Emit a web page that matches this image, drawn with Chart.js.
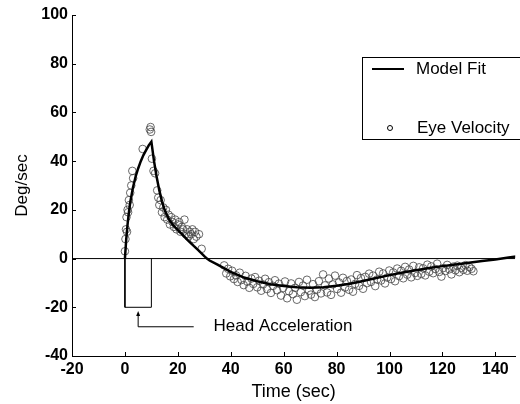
<!DOCTYPE html>
<html>
<head>
<meta charset="utf-8">
<script src="https://cdn.jsdelivr.net/npm/chart.js@4"></script>
<style>
  html, body { margin: 0; padding: 0; background: #fff; }
  #wrap { width: 520px; height: 404px; }
</style>
</head>
<body>
<div id="wrap"><canvas id="eyeChart"></canvas></div>
<script>
// model fit curve (sec, deg/sec)
const fitTime = [0, 0.5, 1, 1.5, 2, 3, 4, 5, 6, 7, 8, 9, 10, 11, 12, 13, 14, 15, 16, 17, 18, 19, 20,
  22, 24, 26, 28, 30, 31, 32, 35, 40, 45, 50, 55, 60, 65, 70, 75, 80, 85, 90, 95, 100, 105, 110,
  115, 120, 125, 130, 135, 140, 145, 148];
const fitVel = [0, 8, 14, 19, 23, 29, 33.5, 37, 40, 42.5, 44.5, 46.5, 48, 40, 33.5, 28, 23.5, 20, 17.5,
  15.5, 14, 12.8, 11.7, 9.5, 7.3, 5.2, 3.2, 1.0, 0, -0.8, -2.5, -5.5, -7.8, -9.3, -10.5, -11.3, -11.8,
  -12, -11.8, -11.2, -10.3, -9.2, -8, -6.8, -5.7, -4.8, -3.9, -3.1, -2.4, -1.7, -1.0, -0.4, 0.4, 0.9];

// measured eye velocity
const eyeTime = [0.0, 0.2, 0.4, 0.6, 0.8, 1.0, 1.2, 1.5, 1.8, 2.0, 2.4, 2.8, 3.1,
  6.7, 9.4, 9.7, 9.9, 10.2, 10.8, 11.4, 12.2, 12.6, 13.0, 13.5, 14.0, 14.5, 15.0, 15.5, 16.0,
  16.5, 17.0, 17.5, 18.0, 18.5, 19.0, 19.5, 20.0, 20.5, 21.0, 21.5, 22.0, 22.5, 23.0, 23.5, 24.0,
  24.5, 25.0, 25.5, 26.0, 26.5, 27.0, 28.0, 29.0,
  37.5, 38.3, 39.0, 39.8, 40.5, 41.2, 42.0, 42.6, 43.4, 44.1, 44.9, 45.6, 46.3, 47.0, 47.8, 48.5,
  49.2, 50.0, 50.7, 51.5, 52.2, 53.0, 53.7, 54.4, 55.2, 56.0, 56.7, 57.5, 58.2, 59.0, 59.8, 60.5,
  61.3, 62.0, 62.8, 63.5, 64.3, 65.0, 65.8, 66.5, 67.3, 68.0, 68.8, 69.6, 70.3, 71.1, 71.8, 72.6,
  73.3, 74.1, 74.9, 75.6, 76.4, 77.1, 77.9, 78.6, 79.4, 80.2, 80.9, 81.7, 82.4, 83.2, 83.9, 84.7,
  85.5, 86.2, 87.0, 87.7, 88.5, 89.2, 90.0, 90.8, 91.5, 92.3, 93.0, 93.8, 94.6, 95.3, 96.1, 96.8,
  97.6, 98.3, 99.1, 99.9, 100.6, 101.4, 102.1, 102.9, 103.6, 104.4, 105.2, 105.9, 106.7, 107.4,
  108.2, 109.0, 109.7, 110.5, 111.2, 112.0, 112.7, 113.5, 114.3, 115.0, 115.8, 116.5, 117.3, 118.0,
  118.8, 119.6, 120.3, 121.1, 121.8, 122.6, 123.4, 124.1, 124.9, 125.6, 126.4, 127.1, 127.9, 128.7,
  129.4, 130.2, 131.0, 131.7];
const eyeVel = [3, 8, 12, 17, 11, 20, 19, 24, 22, 27, 30, 36, 33,
  45, 53, 54, 52, 41, 36, 35, 28, 25, 22, 24, 19, 21, 17, 20, 16,
  18, 14, 17, 15, 13, 16, 12, 14, 15, 11, 13, 12, 16, 10, 12, 9,
  11, 10, 12, 8, 11, 9, 10, 4,
  -2.8, -6.1, -4.2, -7.3, -5.0, -8.4, -6.9, -9.6, -5.8, -8.8, -10.9, -7.1, -9.5, -12.0, -8.2, -10.4,
  -7.6, -11.8, -9.1, -13.2, -10.6, -8.3, -12.5, -9.7, -14.1, -11.2, -8.9, -13.0, -10.3, -15.2, -12.1, -9.4,
  -16.3, -13.4, -10.2, -14.6, -12.0, -16.9, -9.6, -13.8, -11.1, -15.4, -8.7, -13.2, -14.8, -10.5, -15.8, -12.7,
  -9.3, -14.3, -6.5, -11.0, -13.9, -8.2, -14.9, -10.6, -7.0, -12.5, -9.8, -14.0, -7.9, -11.9, -9.2, -12.8,
  -8.6, -13.6, -10.4, -6.8, -11.2, -8.0, -12.4, -7.5, -10.1, -6.2, -9.6, -7.0, -11.3, -8.6, -5.4, -9.0,
  -6.1, -10.2, -7.8, -4.9, -8.4, -5.7, -9.3, -4.1, -7.2, -5.0, -8.1, -3.4, -6.6, -4.5,
  -7.7, -3.0, -5.9, -7.1, -3.6, -6.3, -4.0, -6.9, -2.5, -5.4, -3.2, -6.0, -4.3, -2.1,
  -5.5, -7.4, -3.9, -5.1, -2.6, -4.4, -6.5, -3.3, -4.8, -2.9, -5.6, -3.8, -4.6, -2.7,
  -5.0, -3.5, -4.2, -5.2];

// head acceleration pulse (outline)
const headTime = [0, 0, 10, 10];
const headAcc = [0, -20, -20, 0];

// zero reference
const zeroTime = [-20, 147.5];
const zeroVel = [0, 0];

const xTicksMin = -20, xTicksMax = 147.5;
const yTicksMin = -40, yTicksMax = 100;

const pts = (xs, ys) => xs.map((x, i) => ({ x: x, y: ys[i] }));
const FONT = "'Liberation Sans', Arial, sans-serif";

const inwardTicks = {
  id: 'inwardTicks',
  afterDraw(chart) {
    const { ctx, chartArea, scales } = chart;
    ctx.save();
    ctx.strokeStyle = '#000';
    ctx.lineWidth = 1;
    ctx.beginPath();
    scales.x.ticks.forEach(t => {
      const px = Math.round(scales.x.getPixelForValue(t.value)) + 0.5;
      ctx.moveTo(px, chartArea.bottom);
      ctx.lineTo(px, chartArea.bottom - 4);
    });
    scales.y.ticks.forEach(t => {
      const py = Math.round(scales.y.getPixelForValue(t.value)) + 0.5;
      ctx.moveTo(chartArea.left, py);
      ctx.lineTo(chartArea.left + 4, py);
    });
    ctx.stroke();
    ctx.restore();
  }
};

// "Head Acceleration" callout
const headNote = {
  id: 'headNote',
  afterDraw(chart) {
    const { ctx, scales: { x, y } } = chart;
    const ax = x.getPixelForValue(5), top = y.getPixelForValue(-21.5), low = y.getPixelForValue(-28);
    const end = x.getPixelForValue(26);
    ctx.save();
    ctx.strokeStyle = '#000';
    ctx.fillStyle = '#000';
    ctx.lineWidth = 1;
    ctx.beginPath();
    ctx.moveTo(ax, top + 4);
    ctx.lineTo(ax, low);
    ctx.lineTo(end, low);
    ctx.stroke();
    ctx.beginPath();
    ctx.moveTo(ax, top);
    ctx.lineTo(ax - 2, top + 5);
    ctx.lineTo(ax + 2, top + 5);
    ctx.closePath();
    ctx.fill();
    ctx.font = '17px ' + FONT;
    ctx.textBaseline = 'middle';
    ctx.fillText('Head Acceleration', x.getPixelForValue(33.5), low);
    ctx.restore();
  }
};

// boxed legend at upper right
const boxLegend = {
  id: 'boxLegend',
  afterDraw(chart) {
    const ctx = chart.ctx;
    const fit = chart.data.datasets[2], eye = chart.data.datasets[3];
    ctx.save();
    ctx.strokeStyle = '#000';
    ctx.lineWidth = 1;
    ctx.strokeRect(362.5, 57.5, 170, 82);
    ctx.lineWidth = 2;
    ctx.beginPath();
    ctx.moveTo(372, 69);
    ctx.lineTo(404, 69);
    ctx.stroke();
    ctx.lineWidth = 1;
    ctx.beginPath();
    ctx.arc(390, 128, 2.5, 0, Math.PI * 2);
    ctx.stroke();
    ctx.fillStyle = '#000';
    ctx.font = '17px ' + FONT;
    ctx.textBaseline = 'middle';
    ctx.fillText(fit.label, 416, 69);
    ctx.fillText(eye.label, 417, 128);
    ctx.restore();
  }
};

const eyeCtx = document.getElementById('eyeChart').getContext('2d');
const eyeChart = new Chart(eyeCtx, {
  type: 'scatter',
  data: {
    datasets: [
      {
        label: 'zero',
        data: pts(zeroTime, zeroVel),
        showLine: true,
        borderColor: '#000',
        borderWidth: 1,
        pointRadius: 0,
      },
      {
        label: 'Head Acceleration',
        data: pts(headTime, headAcc),
        showLine: true,
        borderColor: '#000',
        borderWidth: 1,
        pointRadius: 0,
      },
      {
        label: 'Model Fit',
        data: pts(fitTime, fitVel),
        showLine: true,
        borderColor: '#000',
        borderWidth: 2.5,
        pointRadius: 0,
        tension: 0,
      },
      {
        label: 'Eye Velocity',
        data: pts(eyeTime, eyeVel),
        showLine: false,
        borderColor: '#444',
        backgroundColor: 'rgba(0,0,0,0)',
        borderWidth: 0.8,
        pointRadius: 3.8,
      },
    ],
  },
  options: {
    responsive: true,
    maintainAspectRatio: false,
    animation: false,
    devicePixelRatio: 1,
    layout: { padding: { top: 15, right: 0, left: 0, bottom: 0 } },
    plugins: { legend: { display: false }, tooltip: { enabled: false } },
    scales: {
      x: {
        type: 'linear',
        min: xTicksMin,
        max: xTicksMax,
        grid: { display: false, drawTicks: false },
        border: { display: true, color: '#000', width: 1 },
        ticks: { stepSize: 20, includeBounds: false, color: '#000', padding: 4, maxRotation: 0,
          font: { family: FONT, size: 16, weight: 'bold' } },
        title: { display: true, text: 'Time (sec)', color: '#000', padding: { top: 0, bottom: 1 },
          font: { family: FONT, size: 18 } },
        afterFit(scale) { scale.height = 48; },
      },
      y: {
        type: 'linear',
        min: yTicksMin,
        max: yTicksMax,
        grid: { display: false, drawTicks: false },
        border: { display: true, color: '#000', width: 1 },
        ticks: { stepSize: 20, color: '#000', padding: 4, font: { family: FONT, size: 16, weight: 'bold' } },
        title: { display: true, text: 'Deg/sec', color: '#000', padding: { top: 12, bottom: 0 },
          font: { family: FONT, size: 17 } },
        afterFit(scale) { scale.width = 72; },
      },
    },
  },
  plugins: [inwardTicks, headNote, boxLegend],
});
</script>
</body>
</html>
